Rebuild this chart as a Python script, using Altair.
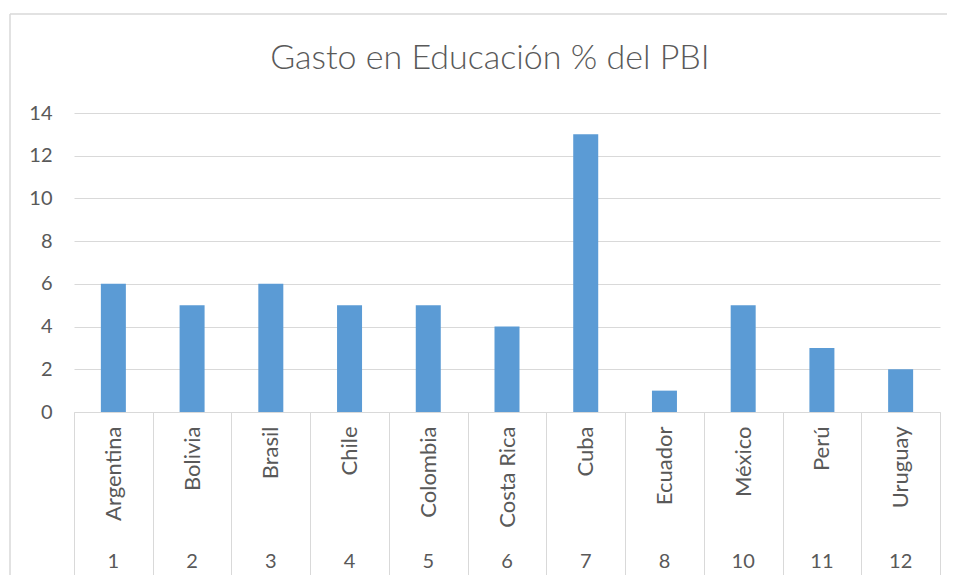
import altair as alt
import pandas as pd

countries = ["Argentina", "Bolivia", "Brasil", "Chile", "Colombia", "Costa Rica",
             "Cuba", "Ecuador", "México", "Perú", "Uruguay"]
codes = ["1", "2", "3", "4", "5", "6", "7", "8", "10", "11", "12"]
gasto = [6, 5, 6, 5, 5, 4, 13, 1, 5, 3, 2]
y_ticks = [0, 2, 4, 6, 8, 10, 12, 14]

df = pd.DataFrame({"country": countries, "code": codes, "gasto": gasto})

FONT = "Lato"
TXT = "#595959"
GRID = "#d9d9d9"
BLUE = "#5B9BD5"

xscale = alt.Scale(paddingInner=0, paddingOuter=0)

base = alt.Chart(df)

bars = base.mark_bar(color=BLUE, size=25).encode(
    x=alt.X("country:N", sort=None, scale=xscale, title=None,
            axis=alt.Axis(orient="bottom",
                          labelAngle=-90, labelAlign="right", labelBaseline="middle",
                          labelPadding=-149, labelFont=FONT, labelFontSize=22,
                          labelColor=TXT, domainColor=GRID, tickColor=GRID,
                          tickBand="extent", tickSize=163, grid=False,
                          labelLimit=200)),
    y=alt.Y("gasto:Q", scale=alt.Scale(domain=[0, 14], nice=False), title=None,
            axis=alt.Axis(values=y_ticks, labelFont=FONT, labelFontSize=20,
                          labelColor=TXT, labelPadding=22, ticks=False,
                          domain=False, gridColor=GRID)),
)

code_text = base.mark_text(font=FONT, fontSize=20, color=TXT,
                           baseline="middle", align="center").encode(
    x=alt.X("country:N", sort=None),
    y=alt.value(449),
    text="code:N",
)

one = pd.DataFrame({"a": [0]})
border_left = alt.Chart(one).mark_rule(color=GRID, strokeWidth=1.5).encode(
    x=alt.value(-64), y=alt.value(-99), y2=alt.value(470))
border_top = alt.Chart(one).mark_rule(color=GRID, strokeWidth=1.5).encode(
    x=alt.value(-64), x2=alt.value(881), y=alt.value(-99))

chart = alt.layer(bars, code_text, border_left, border_top).properties(
    width=866, height=299,
    title=alt.TitleParams("Gasto en Educación % del PBI", font=FONT, fontSize=34,
                          fontWeight=300, color=TXT, anchor="middle",
                          frame="group", dx=-17, offset=-97, baseline="bottom"),
    autosize=alt.AutoSizeParams(type="none"),
    padding={"left": 66, "top": 105, "right": 7, "bottom": 163},
).configure_view(stroke=None)

chart.save("out.html", embed_options={"renderer": "svg", "actions": False})
